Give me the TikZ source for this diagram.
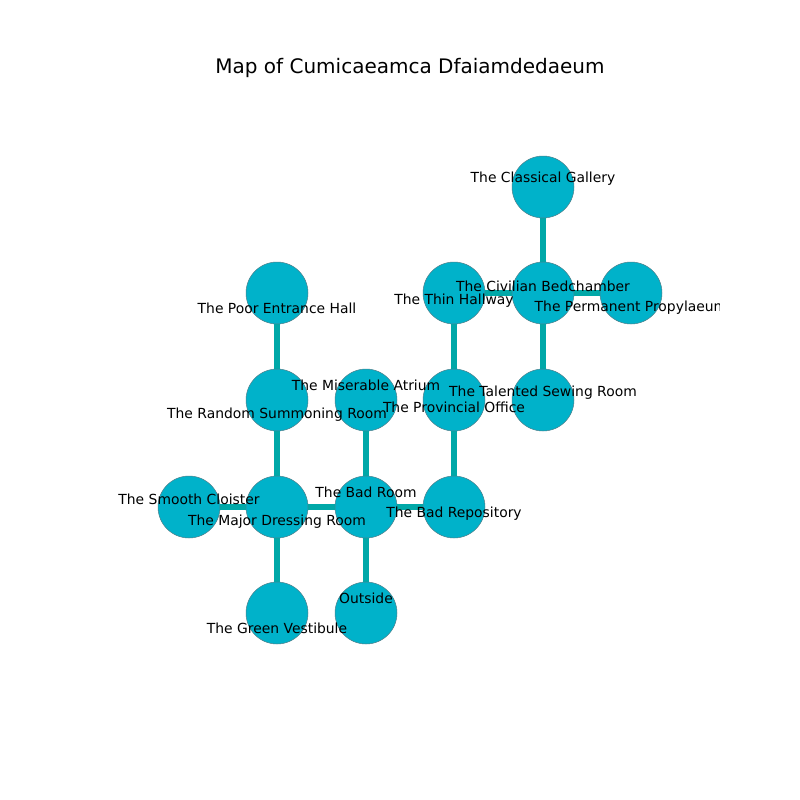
\documentclass[tikz,border=0pt]{standalone}
\usepackage{fontspec}
\setmainfont{DejaVu Sans}
\pgfdeclarelayer{bg}
\pgfsetlayers{bg,main}
\definecolor{roomfill}{HTML}{00B2CA}
\definecolor{edgecol}{HTML}{00A8A8}
\definecolor{rimcol}{HTML}{4F7F8A}
\begin{document}
\begin{tikzpicture}[x=1pt,y=-1pt,
  room/.style={circle,minimum size=62pt,inner sep=0pt,fill=roomfill,draw=rimcol,line width=0.5pt},
  lbl/.style={inner sep=0pt,font=\fontsize{13.89}{16}\selectfont,text=black},
  link/.style={draw=edgecol,line width=5.2pt}]
\useasboundingbox (0,0) rectangle (800,800);
\node[font=\fontsize{20}{24}\selectfont] (title) at (410,68) {Map of Cumicaeamca Dfaiamdedaeum};
% rooms
\node[room] (cg) at (543,187) {};
\node[room] (pe) at (277,293) {};
\node[room] (th) at (454,293) {};
\node[room] (cb) at (543,293) {};
\node[room] (pp) at (631,293) {};
\node[room] (rs) at (277,400) {};
\node[room] (ma) at (366,400) {};
\node[room] (po) at (454,400) {};
\node[room] (ts) at (543,400) {};
\node[room] (sc) at (189,507) {};
\node[room] (md) at (277,507) {};
\node[room] (br) at (366,507) {};
\node[room] (bp) at (454,507) {};
\node[room] (gv) at (277,613) {};
\node[room] (ou) at (366,613) {};
\begin{pgfonlayer}{bg}
\fill[white] (0,0) rectangle (800,800);
\path[link] (cg.center) -- (cb.center);
\path[link] (th.center) -- (cb.center);
\path[link] (cb.center) -- (pp.center);
\path[link] (cb.center) -- (ts.center);
\path[link] (th.center) -- (po.center);
\path[link] (po.center) -- (bp.center);
\path[link] (br.center) -- (bp.center);
\path[link] (ma.center) -- (br.center);
\path[link] (br.center) -- (ou.center);
\path[link] (md.center) -- (br.center);
\path[link] (sc.center) -- (md.center);
\path[link] (rs.center) -- (md.center);
\path[link] (pe.center) -- (rs.center);
\path[link] (md.center) -- (gv.center);
\end{pgfonlayer}
% labels
\begin{scope}
\clip (80,0) rectangle (719,800);
\node[lbl] (lcg) at (543,179) {The Classical Gallery};
\node[lbl] (lpe) at (277,308) {The Poor Entrance Hall};
\node[lbl] (lth) at (454,301) {The Thin Hallway};
\node[lbl] (lcb) at (543,286) {The Civilian Bedchamber};
\node[lbl] (lpp) at (631,308) {The Permanent Propylaeum};
\node[lbl] (lrs) at (277,415) {The Random Summoning Room};
\node[lbl] (lma) at (366,385) {The Miserable Atrium};
\node[lbl] (lpo) at (454,407) {The Provincial Office};
\node[lbl] (lts) at (543,393) {The Talented Sewing Room};
\node[lbl] (lsc) at (189,499) {The Smooth Cloister};
\node[lbl] (lmd) at (277,522) {The Major Dressing Room};
\node[lbl] (lbr) at (366,492) {The Bad Room};
\node[lbl] (lbp) at (454,514) {The Bad Repository};
\node[lbl] (lgv) at (277,628) {The Green Vestibule};
\node[lbl] (lou) at (366,598) {Outside};
\end{scope}
\end{tikzpicture}
\end{document}
